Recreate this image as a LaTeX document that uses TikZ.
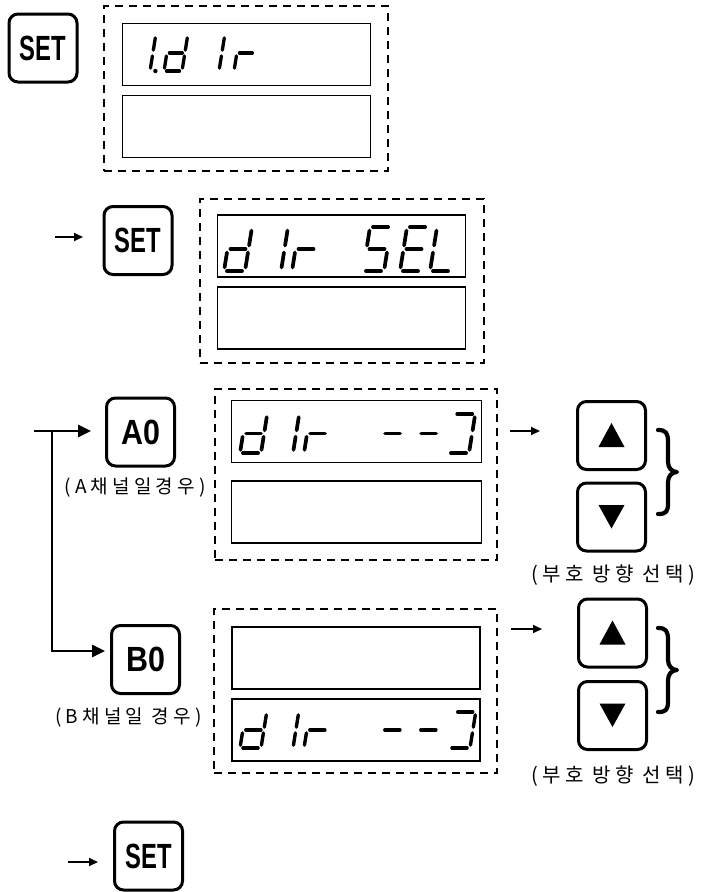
\documentclass[tikz,border=0pt]{standalone}
\usepackage{fontspec}
\usepackage{graphicx}
\setsansfont{Liberation Sans}
\newfontfamily\krfont[LetterSpace=22]{Noto Sans CJK KR}
\usetikzlibrary{arrows.meta}

\def\segw{3.6pt}
\tikzset{
  key/.style={draw, line width=3pt, rounded corners=9pt, inner sep=0pt,
    minimum width=68pt, minimum height=68pt,
    font=\sffamily\bfseries\fontsize{35}{35}\selectfont},
  lcd/.style={draw, line width=1.5pt, inner sep=0pt, minimum width=248pt, minimum height=62pt},
  grp/.style={draw, line width=1.4pt, dash pattern=on 8pt off 6pt, inner sep=0pt},
  segline/.style={line width=\segw, line cap=round},
  smallarrow/.style={line width=1.8pt, -{Triangle[length=9pt,width=8pt]}},
  bigarrow/.style={line width=2.6pt, -{Triangle[length=13pt,width=12pt]}},
  klabel/.style={font=\krfont\fontsize{19}{19}\selectfont, inner sep=0pt},
  slabel/.style={font=\krfont\fontsize{20}{20}\selectfont, inner sep=0pt},
  bracepic/.pic={
    \draw[line width=4.2pt, line cap=round, line join=round]
      (0,1) .. controls (8,1) and (10,4) .. (10,13) -- (10,33)
      .. controls (10,39) and (14,43) .. (19,43)
      .. controls (14,43) and (10,47) .. (10,53) -- (10,74)
      .. controls (10,83) and (8,85) .. (0,85);
  }
}

\newcommand{\SGa}{\draw[segline] (0.14,1) -- (0.86,1);}
\newcommand{\SGb}{\draw[segline] (1,0.92) -- (1,0.58);}
\newcommand{\SGc}{\draw[segline] (1,0.42) -- (1,0.08);}
\newcommand{\SGd}{\draw[segline] (0.14,0) -- (0.86,0);}
\newcommand{\SGe}{\draw[segline] (0,0.42) -- (0,0.08);}
\newcommand{\SGf}{\draw[segline] (0,0.92) -- (0,0.58);}
\newcommand{\SGg}{\draw[segline] (0.14,0.5) -- (0.86,0.5);}
\newcommand{\SGp}{\fill (1.3,0) circle[radius=2.2pt];}
\newcommand{\sdig}[5]{%
  \begin{scope}[shift={(#1,#2)}, x={(#3pt,0pt)}, y={({0.16*#4pt},{#4pt})}]
    \foreach \q in {#5}{\csname SG\q\endcsname}
  \end{scope}}

\begin{document}
\begin{tikzpicture}[x=1pt, y=-1pt]
\useasboundingbox (0,0) rectangle (709,892);

% ---------- Row 1 ----------
\node[key] (set1) at (43,48) {\scalebox{0.68}[1]{SET}};
\node[grp, minimum width=284pt, minimum height=165pt] (g1) at (246,88.5) {};
\node[lcd] (d1t) at (246.5,54.5) {};
\node[lcd] (d1b) at (246.5,126.5) {};
\def\segw{3.3pt}
\sdig{132}{71}{18}{36}{b,c,p}
\sdig{164}{71}{18}{36}{b,c,d,e,g}
\sdig{201}{71}{18}{36}{b,c}
\sdig{234}{71}{18}{36}{e,g}

% ---------- Row 2 ----------
\node[key] (set2) at (138,240.5) {\scalebox{0.68}[1]{SET}};
\node[grp, minimum width=284pt, minimum height=164pt] (g2) at (342,281) {};
\node[lcd] (d2t) at (341.5,246) {};
\node[lcd] (d2b) at (341.5,318) {};
\def\segw{3.7pt}
\sdig{224}{271}{21}{44}{b,c,d,e,g}
\sdig{260}{271}{21}{44}{b,c}
\sdig{292}{271}{21}{44}{e,g}
\sdig{363}{271}{21}{44}{a,f,g,c,d}
\sdig{400}{271}{21}{44}{a,f,g,e,d}
\sdig{430}{271}{21}{44}{f,e,d}
\coordinate (r2s) at (55,237);
\draw[smallarrow, shorten >=19.5pt] (r2s) -- (r2s -| set2.west);

% ---------- Row 3 (A) ----------
\node[key] (a0) at (140.5,432) {\scalebox{0.87}[1]{A0}};
\node[klabel] (labA) at (135,487) {(A채널일경우)};
\node[grp, minimum width=282pt, minimum height=171pt] (g3) at (356,474.5) {};
\node[lcd, minimum width=250pt] (d3t) at (356.5,431.5) {};
\node[lcd, minimum width=250pt] (d3b) at (356.5,512) {};
\sdig{240}{453}{21}{39}{b,c,d,e,g}
\sdig{272}{453}{21}{39}{b,c}
\sdig{304}{453}{21}{39}{e,g}
\sdig{379}{453}{21}{39}{g}
\sdig{415}{453}{21}{39}{g}
\sdig{448}{453}{21}{39}{a,b,c,d}

\node[key] (up1) at (611.5,435.5) {};
\node[key] (dn1) at (611.5,517) {};
\fill[shift={(up1.center)}] (0,-12.5) -- (13,11.5) -- (-13,11.5) -- cycle;
\fill[shift={(dn1.center)}] (0,11.5) -- (13,-12) -- (-13,-12) -- cycle;
\pic (br1) at (658,429) {bracepic};
\node[slabel] (selA) at (613,575) {(부호 방향 선택)};
\coordinate (ra) at (510,431);
\draw[smallarrow, shorten >=36pt] (ra) -- (ra -| up1.west);

% ---------- Row 4 (B) ----------
\node[key] (b0) at (145.5,659.5) {\scalebox{0.87}[1]{B0}};
\node[klabel] (labB) at (128.5,717) {(B채널일 경우)};
\node[grp, minimum width=283pt, minimum height=164pt] (g4) at (355.5,691) {};
\node[lcd] (d4t) at (356,658) {};
\node[lcd] (d4b) at (356,730) {};
\def\segw{3.4pt}
\sdig{240}{748}{21}{36}{b,c,d,e,g}
\sdig{272}{748}{21}{36}{b,c}
\sdig{304}{748}{21}{36}{e,g}
\sdig{379}{748}{21}{36}{g}
\sdig{415}{748}{21}{36}{g}
\sdig{449}{748}{21}{36}{a,b,c,d}

\node[key] (up2) at (612.5,633) {};
\node[key] (dn2) at (612.5,715.5) {};
\fill[shift={(up2.center)}] (0,-12.5) -- (13,11.5) -- (-13,11.5) -- cycle;
\fill[shift={(dn2.center)}] (0,11.5) -- (13,-12) -- (-13,-12) -- cycle;
\pic (br2) at (658,627) {bracepic};
\node[slabel] (selB) at (613,776) {(부호 방향 선택)};
\coordinate (rb) at (511,629);
\draw[smallarrow, shorten >=35pt] (rb) -- (rb -| up2.west);

% ---------- branch connectors ----------
\coordinate (as) at (34,431);
\coordinate (jn) at (52,431);
\coordinate (bend) at (52,651);
\draw[bigarrow, shorten >=14pt] (as) -- (as -| a0.west);
\draw[bigarrow, shorten >=5pt] (jn) -- (bend) -- (bend -| b0.west);

% ---------- final SET ----------
\node[key] (set3) at (148.5,856) {\scalebox{0.68}[1]{SET}};
\coordinate (r5s) at (68,862);
\draw[smallarrow, shorten >=15pt] (r5s) -- (r5s -| set3.west);
\end{tikzpicture}
\end{document}
